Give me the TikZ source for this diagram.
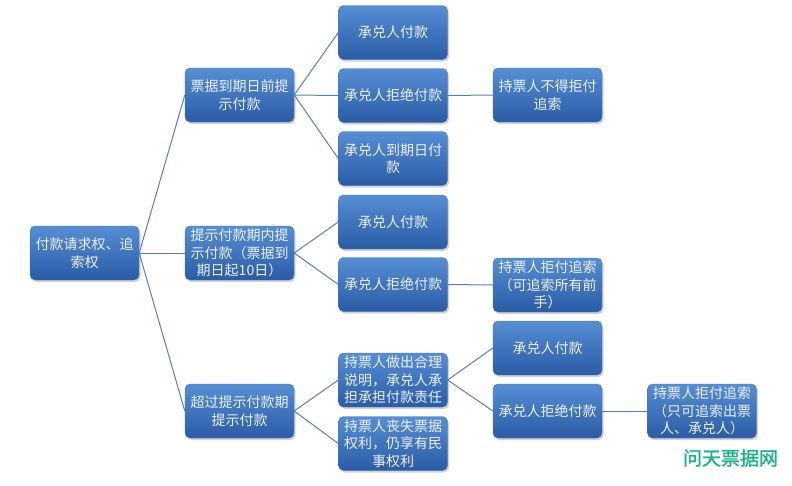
\documentclass[tikz,border=0pt]{standalone}
\usepackage{fontspec}
\setmainfont{Noto Sans CJK SC}
\newfontfamily\cjk{Noto Sans CJK SC}
\newfontfamily\wmfont[FakeBold=1.2]{Noto Sans CJK SC}
\usetikzlibrary{shadows}
\definecolor{boxtop}{RGB}{86,142,212}
\definecolor{boxbot}{RGB}{42,92,166}
\definecolor{boxline}{RGB}{70,120,190}
\definecolor{linkc}{RGB}{88,128,186}
\definecolor{txtc}{RGB}{238,242,250}
\definecolor{wmark}{RGB}{24,178,140}
\tikzset{
  box/.style={draw=boxline, line width=0.4pt, rounded corners=5pt,
    top color=boxtop, bottom color=boxbot,
    minimum width=109pt, minimum height=54pt, inner sep=1pt,
    align=center, text=txtc, font=\cjk\fontsize{14}{17.5}\selectfont,
    drop shadow={shadow xshift=1.5pt, shadow yshift=-2pt, opacity=0.35}},
  link/.style={draw=linkc, line width=1pt}
}
\begin{document}
\begin{tikzpicture}[x=1pt,y=-1pt]
\useasboundingbox (0,0) rectangle (792,485);
\fill[white] (0,0) rectangle (792,485);
% root
\node[box] (root) at (84.5,253) {付款请求权、追\\索权};
% level 1
\node[box] (a) at (239.5,95) {票据到期日前提\\示付款};
\node[box] (b) at (239.5,253) {提示付款期内提\\示付款（票据到\\期日起10日）};
\node[box] (c) at (239.5,411) {超过提示付款期\\提示付款};
% level 2
\node[box] (a1) at (393,32.5) {承兑人付款};
\node[box] (a2) at (393,95.5) {承兑人拒绝付款};
\node[box] (a3) at (393,158.5) {承兑人到期日付\\款};
\node[box] (b1) at (393,222) {承兑人付款};
\node[box] (b2) at (393,284.5) {承兑人拒绝付款};
\node[box] (c1) at (393,380) {持票人做出合理\\说明，承兑人承\\担承担付款责任};
\node[box] (c2) at (393,443.5) {持票人丧失票据\\权利，仍享有民\\事权利};
% level 3
\node[box] (a21) at (547.5,95) {持票人不得拒付\\追索};
\node[box] (b21) at (547.5,285) {持票人拒付追索\\（可追索所有前\\手）};
\node[box] (c11) at (547.5,348) {承兑人付款};
\node[box] (c12) at (547.5,411) {承兑人拒绝付款};
% level 4
\node[box] (c121) at (702,411) {持票人拒付追索\\（只可追索出票\\人、承兑人）};
% connectors
\foreach \s/\t in {root/a,root/b,root/c,a/a1,a/a2,a/a3,b/b1,b/b2,c/c1,c/c2,a2/a21,b2/b21,c1/c11,c1/c12,c12/c121}
  \draw[link] (\s.east) -- (\t.west);
% watermark
\node[text=wmark, font=\wmfont\fontsize{19}{22}\selectfont, inner sep=0pt] (wm) at (730.5,458) {问天票据网};
\end{tikzpicture}
\end{document}
